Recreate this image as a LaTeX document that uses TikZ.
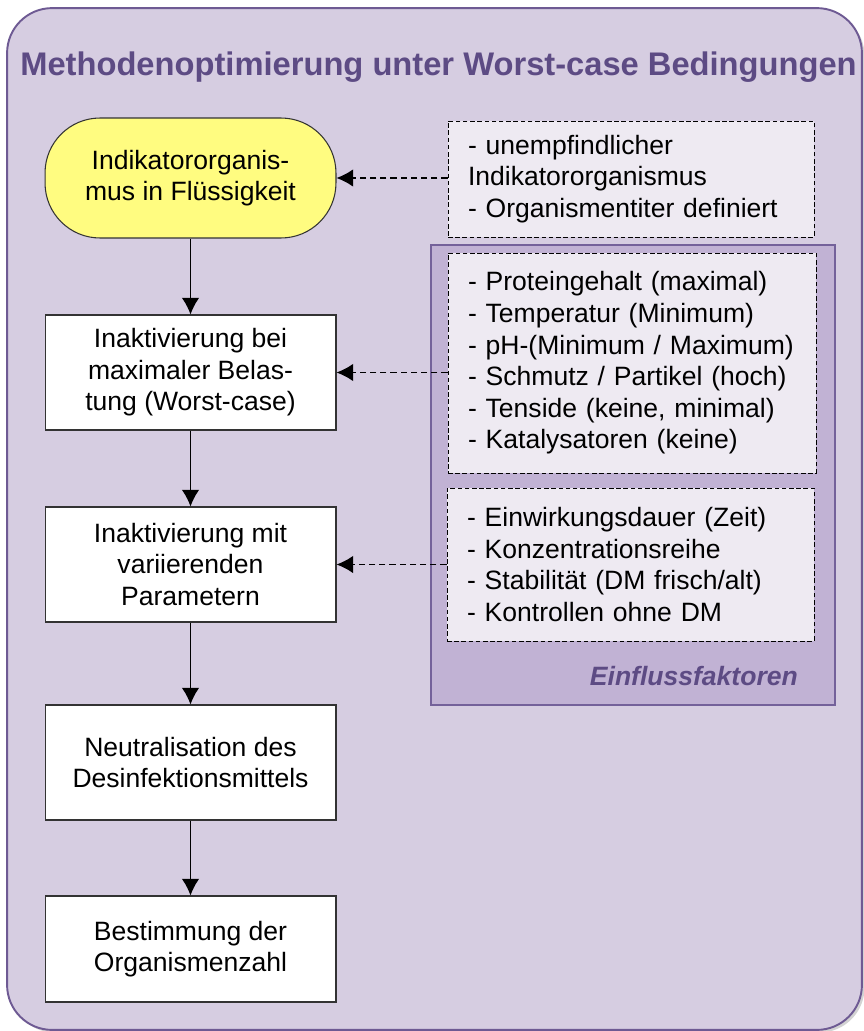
\documentclass[tikz,border=0pt]{standalone}
\usepackage{fontspec}
\setmainfont{Liberation Sans}
\usetikzlibrary{arrows.meta,shadows}
\definecolor{panelfill}{RGB}{214,205,225}
\definecolor{paneldraw}{RGB}{110,90,147}
\definecolor{titlecol}{RGB}{93,75,132}
\definecolor{groupfill}{RGB}{193,178,212}
\definecolor{groupdraw}{RGB}{116,97,154}
\definecolor{notefill}{RGB}{238,234,242}
\definecolor{startfill}{RGB}{255,252,128}
\begin{document}
\begin{tikzpicture}[x=0.02cm, y=-0.02cm,
	every node/.style={font=\fontsize{15.1}{18}\selectfont},
	panel/.style={rectangle, draw=paneldraw, line width=1.1pt, fill=panelfill, rounded corners=0.9cm, drop shadow={shadow xshift=1.5pt, shadow yshift=-1.5pt, opacity=0.35}},
	groupbox/.style={rectangle, draw=groupdraw, line width=1.1pt, fill=groupfill},
	flowbox/.style={rectangle, draw=black!80, line width=0.6pt, fill=white, minimum width=5.82cm, minimum height=2.3cm, align=center, inner sep=0pt},
	startbox/.style={flowbox, rounded corners=1.1cm, fill=startfill, minimum height=2.4cm},
	notebox/.style={rectangle, draw=black, dash pattern=on 2.6pt off 1.5pt, line width=0.5pt, fill=notefill, align=left, inner xsep=0.4cm, inner ysep=0pt},
	flowarrow/.style={-{Latex[length=9.5pt,width=10pt]}, line width=0.8pt},
	notearrow/.style={-{Latex[length=9.5pt,width=10pt]}, line width=0.75pt, dash pattern=on 3.6pt off 2.2pt}]
	\useasboundingbox (0,0) rectangle (863,1031);
	% frame and group
	\node (panel) at (434.5,519)	[panel, minimum width=17.1cm, minimum height=20.44cm]	{};
	\node (titel) at (438.5,75)	[anchor=base, font=\fontsize{18.6}{22}\selectfont\bfseries, text=titlecol]	{Methodenoptimierung unter Worst-case Bedingungen};
	\node (einfluss) at (633,475)	[groupbox, minimum width=8.08cm, minimum height=9.2cm]	{};
	\node (einflusstext) at (804,685)	[anchor=base east, font=\fontsize{15.1}{18}\selectfont\bfseries\itshape, text=titlecol]	{Einflussfaktoren};
	% flow
	\node (indikator) at (190.5,178)	[startbox]	{Indikatororganis-\\mus in Flüssigkeit};
	\node (belastung) at (190.5,372.5)	[flowbox]	{Inaktivierung bei\\maximaler Belas-\\tung (Worst-case)};
	\node (parameter) at (190.5,564.5)	[flowbox]	{Inaktivierung mit\\variierenden\\Parametern};
	\node (neutral) at (190.5,762.5)	[flowbox]	{Neutralisation des\\Desinfektionsmittels};
	\node (zahl) at (190.5,949)	[flowbox, minimum height=2.12cm]	{Bestimmung der\\Organismenzahl};
	% notes
	\node (organismus) at (631,179)	[notebox, text width=6.52cm, minimum height=2.32cm]	{- unempfindlicher\\Indikatororganismus\\- Organismentiter definiert};
	\node (bedingungen) at (632,363)	[notebox, text width=6.56cm, minimum height=4.4cm]	{- Proteingehalt (maximal)\\- Temperatur (Minimum)\\- pH-(Minimum / Maximum)\\- Schmutz / Partikel (hoch)\\- Tenside (keine, minimal)\\- Katalysatoren (keine)};
	\node (variation) at (630.5,564.5)	[notebox, text width=6.54cm, minimum height=3.06cm]	{- Einwirkungsdauer (Zeit)\\- Konzentrationsreihe\\- Stabilität (DM frisch/alt)\\- Kontrollen ohne DM};
	\draw[flowarrow] (indikator) -- (belastung);
	\draw[flowarrow] (belastung) -- (parameter);
	\draw[flowarrow] (parameter) -- (neutral);
	\draw[flowarrow] (neutral) -- (zahl);
	\draw[notearrow] (organismus.west |- indikator) -- (indikator);
	\draw[notearrow] (bedingungen.west |- belastung) -- (belastung);
	\draw[notearrow] (variation.west |- parameter) -- (parameter);
\end{tikzpicture}
\end{document}
